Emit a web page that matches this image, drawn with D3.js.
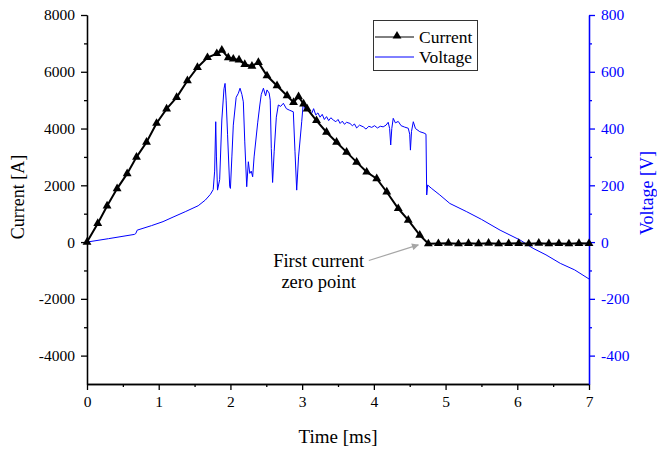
<!DOCTYPE html>
<html><head><meta charset="utf-8">
<script src="https://cdn.jsdelivr.net/npm/d3@7/dist/d3.min.js"></script>
<style>body{margin:0;background:#fff}</style>
</head><body><svg id="c" width="657" height="452"></svg>
<script>
// ---- data ----
const currentTime = [0,0.15,0.28,0.42,0.56,0.69,0.83,0.97,1.11,1.25,1.40,1.54,1.68,1.81,1.88,1.97,2.04,2.12,2.20,2.30,2.39,2.51,2.65,2.79,2.88,2.95,3.02,3.07,3.20,3.34,3.48,3.62,3.76,3.90,4.04,4.18,4.34,4.48,4.64,4.76,4.90,5.04,5.18,5.32,5.46,5.60,5.74,5.88,6.02,6.16,6.30,6.44,6.58,6.72,6.86,7.00];
const currentValues = [0,656,1274,1884,2411,2993,3519,4186,4691,5099,5684,6151,6502,6642,6762,6500,6450,6420,6260,6200,6330,5860,5509,5158,4923,5123,4867,4691,4281,3870,3519,3169,2818,2467,2235,1765,1182,772,246,-60,-50,-40,-60,-45,-55,-40,-60,-50,-45,-60,-40,-55,-50,-60,-45,-50];
const voltageTime = [0,0.3,0.66,0.68,0.70,0.9,1.06,1.2,1.37,1.55,1.65,1.72,1.76,1.78,1.795,1.805,1.82,1.85,1.88,1.91,1.925,1.94,1.96,1.99,2.0,2.02,2.04,2.08,2.11,2.134,2.16,2.18,2.2,2.227,2.25,2.27,2.29,2.31,2.33,2.38,2.41,2.43,2.46,2.49,2.51,2.54,2.555,2.57,2.588,2.61,2.64,2.668,2.70,2.738,2.78,2.82,2.877,2.90,2.924,2.95,2.994,3.017,3.04,3.07,3.10,3.133,3.16,3.19,3.22,3.25,3.28,3.31,3.34,3.37,3.40,3.435,3.47,3.50,3.53,3.56,3.59,3.62,3.667,3.70,3.73,3.76,3.80,3.853,3.89,3.93,3.97,4.01,4.05,4.09,4.13,4.17,4.20,4.22,4.235,4.25,4.27,4.30,4.34,4.38,4.43,4.48,4.50,4.51,4.525,4.55,4.58,4.64,4.70,4.727,4.737,4.75,4.80,4.92,5.06,5.295,5.5,5.76,6.04,6.22,6.4,6.6,6.8,7.0];
const voltageValues = [0,12,27,30,42,58,72,88,107,128,148,168,185,250,424,300,183,220,430,540,559,500,380,195,189,300,412,510,524,542,520,494,353,195,283,242,250,230,300,420,483,520,542,515,536,525,500,330,210,320,440,483,478,489,470,465,459,320,183,300,424,494,470,480,460,453,470,448,455,440,450,432,442,428,438,430,424,432,418,426,415,422,418,410,416,402,412,406,398,408,404,410,402,408,406,412,422,400,342,400,436,420,425,410,405,401,380,324,390,424,400,389,384,380,166,201,190,166,136,107,80,42,7,-22,-45,-75,-98,-130];
const timeTicks = [0,1,2,3,4,5,6,7];
const currentTicks = [-4000,-2000,0,2000,4000,6000,8000];
const voltageTicks = [-400,-200,0,200,400,600,800];
const legendLabels = ["Current","Voltage"];
const annotationLines = ["First current","zero point"];

// ---- drawing ----
const svg = d3.select("#c");
const FONT = "'Liberation Serif','Times New Roman',serif";
const BLUE = "#0000ff";
const x = d3.scaleLinear([0,7],[87,589]);
const yI = d3.scaleLinear([-5000,8000],[384,15]);
const yV = d3.scaleLinear([-500,800],[384,15]);
const fmt = d => String(d);

const range = (a,b,s)=>d3.range(a,b+s/2,s);
function styleAxis(g,color){
  g.attr("font-family",FONT).attr("font-size",15.5);
  g.selectAll("path,line").attr("stroke",color).attr("stroke-width",1.3);
  g.selectAll("text").attr("fill",color);
}
// minor ticks
svg.append("g").attr("transform","translate(87,0)")
  .call(d3.axisLeft(yI).tickValues(range(-3000,7000,2000)).tickSize(3).tickFormat("").tickSizeOuter(0))
  .call(g=>styleAxis(g,"#000"));
svg.append("g").attr("transform","translate(87,0)")
  .call(d3.axisLeft(yI).tickValues(currentTicks).tickSize(6).tickPadding(6).tickSizeOuter(0).tickFormat(fmt))
  .call(g=>styleAxis(g,"#000"));
svg.append("g").attr("transform","translate(0,384)")
  .call(d3.axisBottom(x).tickValues(range(0.5,6.5,1)).tickSize(3).tickFormat("").tickSizeOuter(0))
  .call(g=>styleAxis(g,"#000"));
svg.append("g").attr("transform","translate(0,384)")
  .call(d3.axisBottom(x).tickValues(timeTicks).tickSize(6).tickPadding(6).tickSizeOuter(0).tickFormat(fmt))
  .call(g=>styleAxis(g,"#000"));
svg.append("g").attr("transform","translate(589,0)")
  .call(d3.axisRight(yV).tickValues(range(-300,700,200)).tickSize(3).tickFormat("").tickSizeOuter(0))
  .call(g=>styleAxis(g,BLUE));
svg.append("g").attr("transform","translate(589,0)")
  .call(d3.axisRight(yV).tickValues(voltageTicks).tickSize(6).tickPadding(6).tickSizeOuter(0).tickFormat(fmt))
  .call(g=>styleAxis(g,BLUE));

// axis titles
svg.append("text").attr("transform","translate(24,197) rotate(-90)").attr("text-anchor","middle")
  .attr("font-family",FONT).attr("font-size",18).text("Current [A]");
svg.append("text").attr("transform","translate(653,193) rotate(-90)").attr("text-anchor","middle")
  .attr("font-family",FONT).attr("font-size",18).attr("fill",BLUE).text("Voltage [V]");
svg.append("text").attr("x",338).attr("y",443).attr("text-anchor","middle")
  .attr("font-family",FONT).attr("font-size",19).text("Time [ms]");

// voltage line
const vData = voltageTime.map((t,i)=>[t,voltageValues[i]]);
svg.append("path").datum(vData)
  .attr("d",d3.line().x(d=>x(d[0])).y(d=>yV(d[1])))
  .attr("fill","none").attr("stroke",BLUE).attr("stroke-width",1);

// current line + markers
const cData = currentTime.map((t,i)=>[t,currentValues[i]]);
svg.append("path").datum(cData)
  .attr("d",d3.line().x(d=>x(d[0])).y(d=>yI(d[1])))
  .attr("fill","none").attr("stroke","#000").attr("stroke-width",2);
const tri = d3.symbol().type(d3.symbolTriangle).size(34);
svg.append("g").selectAll("path").data(cData).join("path")
  .attr("transform",d=>`translate(${x(d[0])},${yI(d[1])})`)
  .attr("d",tri).attr("fill","#000");

// legend
const lg = svg.append("g").attr("font-family",FONT).attr("font-size",17.5);
lg.append("rect").attr("x",373.5).attr("y",20.5).attr("width",104).attr("height",50)
  .attr("fill","#fff").attr("stroke","#333").attr("stroke-width",1);
lg.append("line").attr("x1",375).attr("x2",414).attr("y1",37).attr("y2",37).attr("stroke","#000").attr("stroke-width",1);
lg.append("path").attr("transform","translate(397,36)").attr("d",tri).attr("fill","#000");
lg.append("line").attr("x1",375).attr("x2",414).attr("y1",57).attr("y2",57).attr("stroke",BLUE).attr("stroke-width",1);
lg.selectAll("text.l").data(legendLabels).join("text").attr("class","l")
  .attr("x",419).attr("y",(d,i)=>37+i*20).attr("dy","0.33em").text(d=>d);

// annotation
const zeroT = 4.62, zeroI = -100, tailT = 3.93, tailI = -650;
svg.append("defs").append("marker").attr("id","ah").attr("viewBox","0 0 10 10")
  .attr("refX",9).attr("refY",5).attr("markerWidth",9).attr("markerHeight",7).attr("orient","auto")
  .attr("markerUnits","userSpaceOnUse")
  .append("path").attr("d","M0,0L10,5L0,10Z").attr("fill","#a6a6a6");
svg.append("line").attr("x1",x(tailT)).attr("y1",yI(tailI)).attr("x2",x(zeroT)).attr("y2",yI(zeroI))
  .attr("stroke","#a6a6a6").attr("stroke-width",1.2).attr("marker-end","url(#ah)");
svg.append("g").attr("font-family",FONT).attr("font-size",18.5).attr("text-anchor","middle")
  .selectAll("text").data(annotationLines).join("text")
  .attr("x",x(3.23)).attr("y",(d,i)=>yI(-650)+i*21).attr("dy","0.33em").text(d=>d);
</script>
</body></html>
